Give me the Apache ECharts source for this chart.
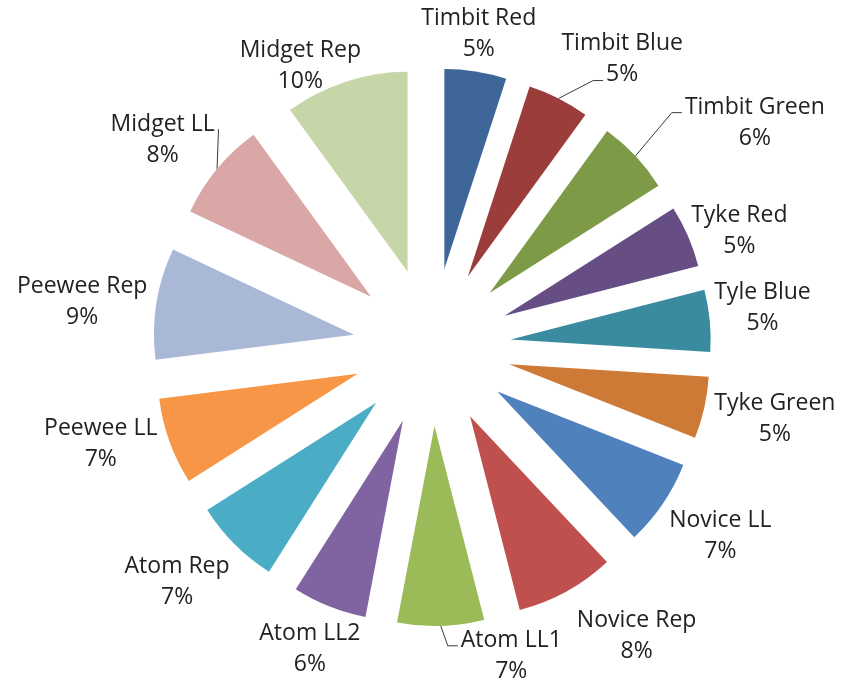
<!DOCTYPE html>
<html>
<head>
<meta charset="utf-8">
<script src="https://cdn.jsdelivr.net/npm/echarts@6/dist/echarts.min.js"></script>
<style>
html, body { margin: 0; padding: 0; background: #fff; }
#container { width: 856px; height: 684px; }
</style>
</head>
<body>
<div id="container"></div>
<script>
var teams = ['Timbit Red', 'Timbit Blue', 'Timbit Green', 'Tyke Red', 'Tyle Blue', 'Tyke Green',
    'Novice LL', 'Novice Rep', 'Atom LL1', 'Atom LL2', 'Atom Rep', 'Peewee LL', 'Peewee Rep',
    'Midget LL', 'Midget Rep'];
var shares = [5, 5, 6, 5, 5, 5, 7, 8, 7, 6, 7, 7, 9, 8, 10];

var colors = ['#3e6699', '#9b3d3b', '#7d9a47', '#664e85', '#3a8ba0', '#ce7a37',
    '#4f81bd', '#c0504d', '#9bbb59', '#8064a2', '#4bacc6', '#f79646', '#a8b8d6',
    '#d9a7a6', '#c6d6a9'];

// pie geometry
var cx = 432, cy = 347, outerR = 200, pull = 79, gap = 8;
var font = '"Open Sans", sans-serif';
var fontSize = 23;

// label tweaks: [extra angle (deg), extra distance (px), leader attaches to text line (0 = none)]
var labelTweak = [
    [-0.5, -3, 0], [6.4, 5, 2], [8.4, 35, 1], [2.7, -12, 0], [-1.3, -5, 0],
    [-0.8, -1, 0], [-0.9, 2, 0], [-6.5, 13, 0], [-12.6, -4, 1], [0.4, -2, 0],
    [2.3, 5, 0], [3.5, -3, 0], [-1.6, -2, 0], [-2, -3, 1], [-7.1, -24, 0]
];

var total = shares.reduce(function (a, b) { return a + b; }, 0);
function midAngle(i) {
    var before = 0;
    for (var k = 0; k < i; k++) before += shares[k];
    return (before + shares[i] / 2) / total * Math.PI * 2;
}

var ctx = document.createElement('canvas').getContext('2d');
ctx.font = fontSize + 'px ' + font;

var dom = document.getElementById('container');
var myChart = echarts.init(dom);

var option = {
    animation: false,
    series: [{
        // exploded slices
        type: 'pie',
        center: [cx, cy],
        radius: [0, outerR],
        startAngle: 90,
        clockwise: true,
        selectedMode: 'multiple',
        selectedOffset: pull,
        emphasis: { disabled: true },
        select: { itemStyle: { borderWidth: 0 } },
        label: { show: false },
        labelLine: { show: false },
        data: teams.map(function (name, i) {
            return { name: name, value: shares[i], selected: true, itemStyle: { color: colors[i] } };
        })
    }, {
        // labels only
        type: 'pie',
        center: [cx, cy],
        radius: [0, outerR],
        startAngle: 90,
        clockwise: true,
        silent: true,
        avoidLabelOverlap: false,
        itemStyle: { color: 'rgba(0,0,0,0)', borderWidth: 0 },
        emphasis: { disabled: true },
        label: {
            show: true,
            position: 'outside',
            formatter: function (p) { return p.name + '\n' + Math.round(p.percent) + '%'; },
            fontFamily: font,
            fontSize: fontSize,
            lineHeight: 31,
            color: '#222222'
        },
        labelLine: {
            show: false,
            lineStyle: { color: '#3a3a3a', width: 1 }
        },
        labelLayout: function (p) {
            var i = p.dataIndex;
            var t = labelTweak[i];
            var a = midAngle(i) + t[0] * Math.PI / 180;
            var s = Math.sin(a), c = Math.cos(a);
            var w = p.labelRect.width, h = p.labelRect.height - 14;
            var ext = Math.abs(s) * w / 2 + Math.abs(c) * h / 2;
            var dist = pull + outerR + gap + ext + t[1];
            var x = cx + s * dist, y = cy - c * dist;
            var out = { x: x, y: y, align: 'center', verticalAlign: 'middle' };
            if (t[2]) {
                var m = midAngle(i);
                var sx = cx + Math.sin(m) * (pull + outerR);
                var sy = cy - Math.cos(m) * (pull + outerR);
                var half = t[2] === 1 ? w / 2 : ctx.measureText(Math.round(shares[i] / total * 100) + '%').width / 2;
                var ey = t[2] === 1 ? y - 10 : y + 22;
                var side = sx < x ? -1 : 1;
                var ex = x + side * (half + 3);
                var kx = ex + side * Math.min(10, Math.abs(sx - ex));
                out.labelLinePoints = [[sx, sy], [kx, ey], [ex, ey]];
            }
            return out;
        },
        data: teams.map(function (name, i) {
            return {
                name: name,
                value: shares[i],
                labelLine: { show: labelTweak[i][2] > 0 }
            };
        })
    }]
};

if (option && typeof option === 'object') {
    myChart.setOption(option, true);
}
</script>
</body>
</html>
